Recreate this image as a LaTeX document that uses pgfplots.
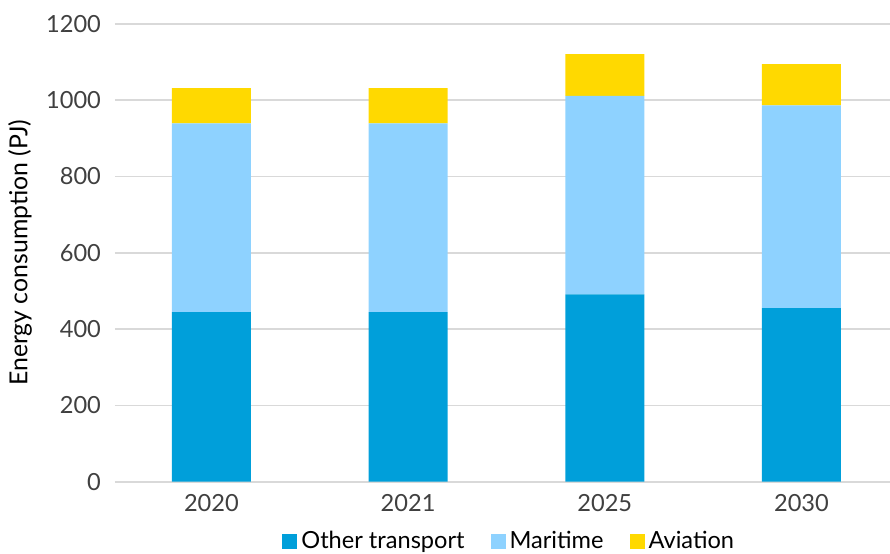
\documentclass[border=0pt]{standalone}
\usepackage{pgfplots}
\pgfplotsset{compat=1.18}
\usepackage{fontspec}
\setmainfont{Lato}
\definecolor{oth}{RGB}{0,159,218}
\definecolor{mar}{RGB}{142,210,255}
\definecolor{avi}{RGB}{255,217,0}
\definecolor{txt}{RGB}{64,64,64}
\definecolor{grd}{RGB}{217,217,217}
\pgfplotstableread{
x other maritime aviation
0 444 495 92
1 444 495 92
2 491 520 109
3 455 531 108
}\datatable
\begin{document}
\begin{tikzpicture}
\begin{axis}[
  at={(0,0)}, anchor=south west,
  scale only axis, width=387.5pt, height=229pt,
  ybar stacked, bar width=39.5pt,
  xmin=-0.49, xmax=3.45, ymin=0, ymax=1200,
  xtick=data, xticklabels={2020,2021,2025,2030},
  ytick={0,200,...,1200},
  ymajorgrids, grid style={grd, line width=0.8pt},
  axis line style={draw=none},
  major tick length=0pt,
  tick label style={font=\fontsize{11.8}{14}\selectfont, text=txt},
  /pgf/number format/assume math mode=true,
  /pgf/number format/1000 sep={},
  yticklabel style={xshift=-3.5pt},
  xticklabel style={yshift=-3pt},
  ylabel={Energy consumption (PJ)},
  ylabel style={font=\fontsize{12.4}{14}\selectfont, text=black, at={(axis description cs:-0.1226,0.5)}, anchor=center},
  legend image code/.code={\fill[#1] (0pt,-3.75pt) rectangle (7.5pt,3.75pt);},
  legend style={draw=none, fill=none, legend columns=-1, at={(axis description cs:0.51,0)}, yshift=-29.7pt, anchor=center,
    font=\fontsize{11.8}{14}\selectfont, text=black,
    /tikz/every even column/.append style={column sep=11pt}},
  legend cell align=left,
]
\addplot[fill=oth, draw=none] table[x=x, y=other] {\datatable};
\addplot[fill=mar, draw=none] table[x=x, y=maritime] {\datatable};
\addplot[fill=avi, draw=none] table[x=x, y=aviation] {\datatable};
\legend{Other transport, Maritime, Aviation}
\end{axis}
\pgfresetboundingbox
\useasboundingbox (-57.5pt,-35.65pt) rectangle (387.5pt,240.85pt);
\end{tikzpicture}
\end{document}
